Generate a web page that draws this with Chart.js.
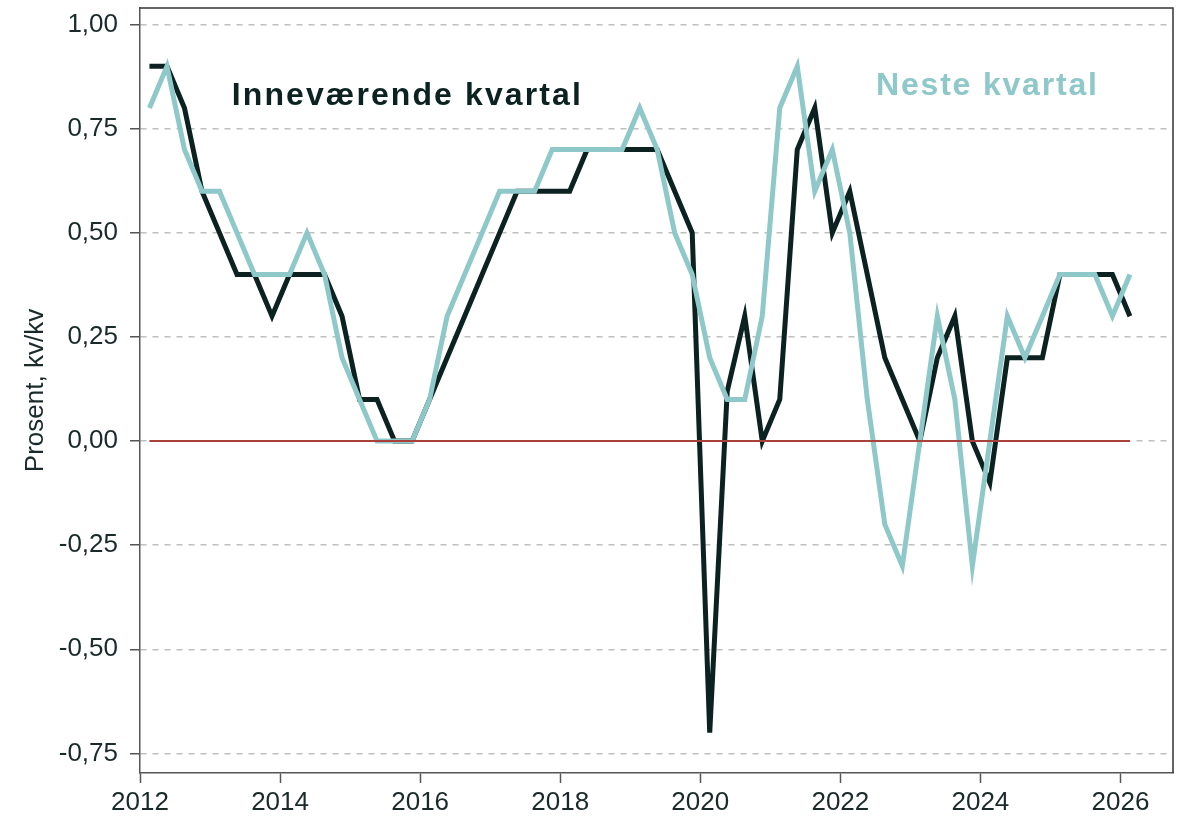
<!DOCTYPE html>
<html>
<head>
<meta charset="utf-8">
<title>Inneværende og neste kvartal</title>
<script src="https://cdn.jsdelivr.net/npm/chart.js@4.4.1/dist/chart.umd.min.js"></script>
<style>
  html, body { margin: 0; padding: 0; background: #fff; }
  canvas { display: block; }
</style>
</head>
<body>
<canvas id="kvartalChart" width="1202" height="817"></canvas>
<script>
// quarterly observations, 2012K1 - 2026K1
const quarters = [
  '2012K1', '2012K2', '2012K3', '2012K4',
  '2013K1', '2013K2', '2013K3', '2013K4',
  '2014K1', '2014K2', '2014K3', '2014K4',
  '2015K1', '2015K2', '2015K3', '2015K4',
  '2016K1', '2016K2', '2016K3', '2016K4',
  '2017K1', '2017K2', '2017K3', '2017K4',
  '2018K1', '2018K2', '2018K3', '2018K4',
  '2019K1', '2019K2', '2019K3', '2019K4',
  '2020K1', '2020K2', '2020K3', '2020K4',
  '2021K1', '2021K2', '2021K3', '2021K4',
  '2022K1', '2022K2', '2022K3', '2022K4',
  '2023K1', '2023K2', '2023K3', '2023K4',
  '2024K1', '2024K2', '2024K3', '2024K4',
  '2025K1', '2025K2', '2025K3', '2025K4',
  '2026K1'
];

const innevaerende = [
  0.9, 0.9, 0.8, 0.6,
  0.5, 0.4, 0.4, 0.3,
  0.4, 0.4, 0.4, 0.3,
  0.1, 0.1, 0.0, 0.0,
  0.1, 0.2, 0.3, 0.4,
  0.5, 0.6, 0.6, 0.6,
  0.6, 0.7, 0.7, 0.7,
  0.7, 0.7, 0.6, 0.5,
  -0.7, 0.12, 0.3, 0.0,
  0.1, 0.7, 0.8, 0.5,
  0.6, 0.4, 0.2, 0.1,
  0.0, 0.2, 0.3, 0.0,
  -0.1, 0.2, 0.2, 0.2,
  0.4, 0.4, 0.4, 0.4,
  0.3
];

const neste = [
  0.8, 0.9, 0.7, 0.6,
  0.6, 0.5, 0.4, 0.4,
  0.4, 0.5, 0.4, 0.2,
  0.1, 0.0, 0.0, 0.0,
  0.1, 0.3, 0.4, 0.5,
  0.6, 0.6, 0.6, 0.7,
  0.7, 0.7, 0.7, 0.7,
  0.8, 0.7, 0.5, 0.4,
  0.2, 0.1, 0.1, 0.3,
  0.8, 0.9, 0.6, 0.7,
  0.5, 0.1, -0.2, -0.3,
  0.0, 0.3, 0.1, -0.3,
  0.0, 0.3, 0.2, 0.3,
  0.4, 0.4, 0.4, 0.3,
  0.4
];

const yTicks = [-0.75, -0.5, -0.25, 0, 0.25, 0.5, 0.75, 1];
const xTicks = [2012, 2014, 2016, 2018, 2020, 2022, 2024, 2026];

const darkCol = '#0b2220';
const cyanCol = '#8ec8c9';
const redCol = '#a8403b';
const axisCol = '#555555';
const fontFam = '"Liberation Sans", Arial, Helvetica, sans-serif';

// quarter label -> decimal year (points sit a bit into the quarter)
const toYear = q => {
  const yr = parseInt(q.slice(0, 4), 10);
  const k = parseInt(q.slice(5), 10);
  return yr + (k - 1) / 4 + 0.135;
};
const xs = quarters.map(toYear);
const toPoints = vals => vals.map((v, i) => ({ x: xs[i], y: v }));

const fmt = v => v.toFixed(2).replace('.', ',');

const frameAndText = {
  id: 'frameAndText',
  beforeDatasetsDraw(chart) {
    const { ctx, chartArea: a } = chart;
    ctx.save();
    ctx.strokeStyle = '#333333';
    ctx.lineWidth = 1.5;
    ctx.beginPath();
    ctx.moveTo(a.left, a.top);
    ctx.lineTo(a.right, a.top);
    ctx.lineTo(a.right, a.bottom);
    ctx.stroke();
    ctx.restore();
  },
  afterDatasetsDraw(chart) {
    const { ctx, scales: { x, y } } = chart;
    ctx.save();
    ctx.font = 'bold 32px ' + fontFam;
    ctx.textAlign = 'left';
    ctx.textBaseline = 'alphabetic';
    if ('letterSpacing' in ctx) ctx.letterSpacing = '2.1px';
    ctx.fillStyle = darkCol;
    ctx.fillText('Inneværende kvartal', x.getPixelForValue(2013.31), y.getPixelForValue(0.806));
    if ('letterSpacing' in ctx) ctx.letterSpacing = '1.8px';
    ctx.fillStyle = cyanCol;
    ctx.fillText('Neste kvartal', x.getPixelForValue(2022.51), y.getPixelForValue(0.83));
    ctx.restore();
  }
};

new Chart(document.getElementById('kvartalChart'), {
  type: 'line',
  data: {
    datasets: [
      {
        label: 'Null',
        data: [{ x: xs[0], y: 0 }, { x: xs[xs.length - 1], y: 0 }],
        borderColor: redCol,
        borderWidth: 2,
        pointRadius: 0,
        order: 0
      },
      {
        label: 'Neste kvartal',
        data: toPoints(neste),
        borderColor: cyanCol,
        borderWidth: 5,
        pointRadius: 0,
        tension: 0,
        order: 1
      },
      {
        label: 'Inneværende kvartal',
        data: toPoints(innevaerende),
        borderColor: darkCol,
        borderWidth: 5,
        pointRadius: 0,
        tension: 0,
        order: 2
      }
    ]
  },
  options: {
    responsive: false,
    animation: false,
    layout: { padding: { top: 8, right: 29, left: 0, bottom: 0 } },
    plugins: {
      legend: { display: false },
      tooltip: { enabled: false }
    },
    scales: {
      x: {
        type: 'linear',
        min: 2012,
        max: 2026.75,
        afterBuildTicks: s => { s.ticks = xTicks.map(v => ({ value: v })); },
        afterFit: s => {
          s.height = 44;
          s.paddingLeft = 0;
          s.paddingRight = 0;
        },
        grid: {
          drawOnChartArea: false,
          drawTicks: true,
          tickLength: 10,
          tickColor: axisCol,
          tickWidth: 1.5
        },
        border: { display: true, color: axisCol, width: 1.5 },
        ticks: {
          padding: 4,
          maxRotation: 0,
          color: '#1a2a2a',
          font: { family: fontFam, size: 26 },
          callback: v => String(v)
        }
      },
      y: {
        type: 'linear',
        min: -0.797,
        max: 1.04,
        afterBuildTicks: s => { s.ticks = yTicks.map(v => ({ value: v })); },
        afterFit: s => {
          s.width = 140;
          s.paddingTop = 0;
          s.paddingBottom = 0;
        },
        grid: {
          color: '#bfbfbf',
          lineWidth: 1.5,
          drawTicks: true,
          tickLength: 10,
          tickColor: axisCol,
          tickWidth: 1.5,
          tickBorderDash: []
        },
        border: { display: true, color: axisCol, width: 1.5, dash: [6, 6] },
        title: {
          display: true,
          text: 'Prosent, kv/kv',
          color: '#1a2a2a',
          font: { family: fontFam, size: 26 },
          padding: { top: 20, bottom: 0 }
        },
        ticks: {
          padding: 12,
          color: '#1a2a2a',
          font: { family: fontFam, size: 26 },
          callback: v => fmt(v)
        }
      }
    }
  },
  plugins: [frameAndText]
});
</script>
</body>
</html>
